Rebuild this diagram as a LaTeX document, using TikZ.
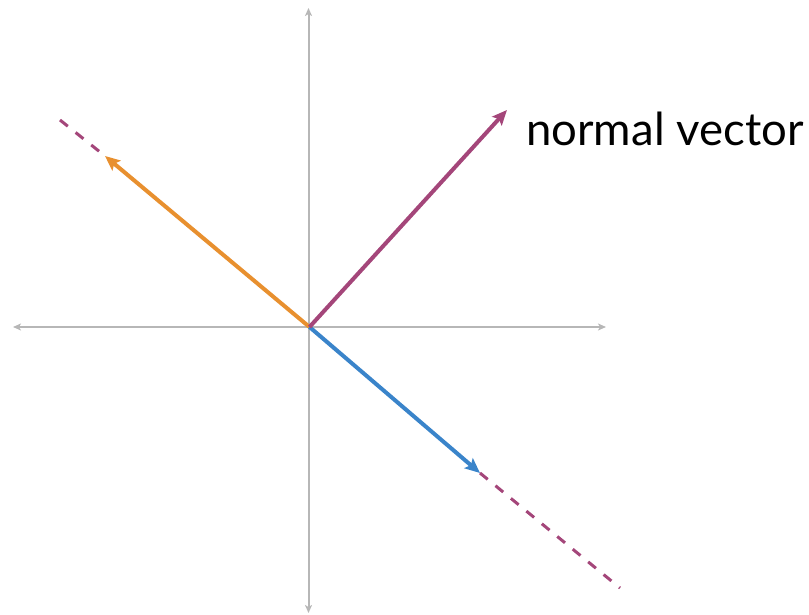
\documentclass[tikz,border=0pt]{standalone}
\usepackage{fontspec}
\setmainfont{Lato}
\usetikzlibrary{arrows.meta}
\definecolor{axisgray}{HTML}{B7B7B7}
\definecolor{vpurple}{HTML}{A4467A}
\definecolor{vorange}{HTML}{E8902F}
\definecolor{vblue}{HTML}{3A84CA}
\tikzset{
  axisline/.style={draw=axisgray, line width=2pt, -{Stealth[length=8pt,width=7pt,inset=2pt]}},
  vecline/.style={line width=4pt, -{Stealth[length=15pt,width=13pt,inset=3pt]}},
  dashline/.style={draw=vpurple, line width=3pt, dash pattern=on 10pt off 10pt},
}
\begin{document}
\begin{tikzpicture}[x=1pt,y=-1pt]
\useasboundingbox (0,0) rectangle (809,615);
\coordinate (O) at (309.5,327);
\coordinate (xl) at (13,327);
\coordinate (xr) at (606,327);
\coordinate (yt) at (308.5,8);
\coordinate (yb) at (308.5,613);
\coordinate (axO) at (308.5,327);
\draw[axisline] (axO) -- (xl);
\draw[axisline] (axO) -- (xr);
\draw[axisline] (axO) -- (yt);
\draw[axisline] (axO) -- (yb);
\coordinate (np) at (507,110);
\coordinate (op) at (105,156);
\coordinate (bp) at (480,473);
\coordinate (de) at (620,588);
\coordinate (ds) at (60,120);
\draw[dashline] (ds) -- (op);
\draw[dashline] (bp) -- (de);
\draw[vecline, draw=vorange, fill=vorange] (O) -- (op);
\draw[vecline, draw=vblue, fill=vblue] (O) -- (bp);
\draw[vecline, draw=vpurple, fill=vpurple] (O) -- (np);
\node[anchor=west, inner sep=0pt, font=\fontsize{45.5}{50}\selectfont] (lab) at (526,129) {normal vector};
\end{tikzpicture}
\end{document}
